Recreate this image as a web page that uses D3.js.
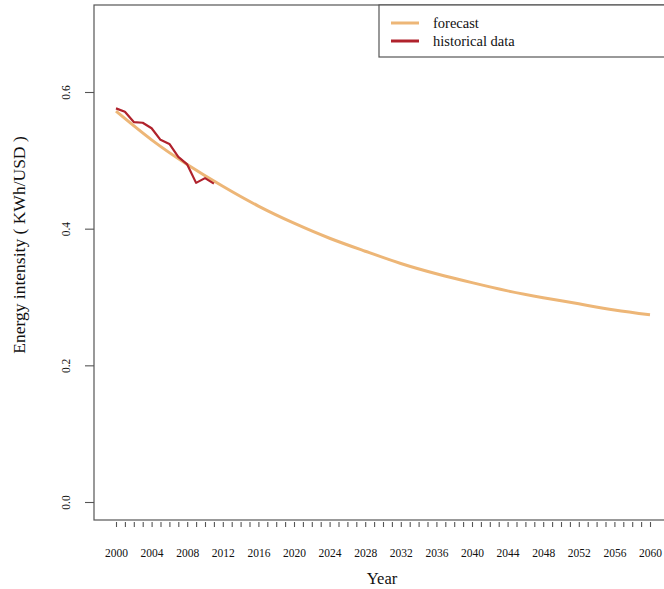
<!DOCTYPE html>
<html>
<head>
<meta charset="utf-8">
<script src="https://cdn.jsdelivr.net/npm/d3@7"></script>
<style>
  html, body { margin: 0; padding: 0; background: #fff; }
  svg { display: block; font-family: "Liberation Serif", "Times New Roman", serif; }
</style>
</head>
<body>
<svg id="chart" width="664" height="589"></svg>
<script>
// ---- data ----
const forecastYears  = [2000, 2004, 2008, 2012, 2016, 2020, 2024, 2028, 2032, 2036, 2040, 2044, 2048, 2052, 2056, 2060];
const forecastValues = [0.572, 0.530, 0.494, 0.462, 0.433, 0.408, 0.386, 0.367, 0.349, 0.334, 0.321, 0.309, 0.299, 0.290, 0.281, 0.274];
const historyYears   = [2000, 2001, 2002, 2003, 2004, 2005, 2006, 2007, 2008, 2009, 2010, 2011];
const historyValues  = [0.576, 0.571, 0.556, 0.555, 0.547, 0.530, 0.524, 0.505, 0.494, 0.467, 0.474, 0.466];
const xTickYears  = d3.range(2000, 2061, 1);
const xLabelYears = [2000, 2004, 2008, 2012, 2016, 2020, 2024, 2028, 2032, 2036, 2040, 2044, 2048, 2052, 2056, 2060];
const yTicks = [0.0, 0.2, 0.4, 0.6];
const legendLabels = ["forecast", "historical data"];

// ---- layout ----
const svg = d3.select("#chart");
const box = { left: 94, right: 672, top: 5, bottom: 520 };
const x = d3.scaleLinear().domain([2000, 2060]).range([116, 650]);
const y = d3.scaleLinear().domain([0, 0.6]).range([502, 92]);
const axisColor = "#555";
const cForecast = "#EDB677";
const cHistory = "#B0222C";

// plot box
svg.append("rect")
  .attr("x", box.left).attr("y", box.top)
  .attr("width", box.right - box.left).attr("height", box.bottom - box.top)
  .attr("fill", "none").attr("stroke", axisColor).attr("stroke-width", 1.2);

// x axis
const xAxis = d3.axisBottom(x)
  .tickValues(xTickYears)
  .tickSize(5).tickSizeOuter(0).tickPadding(22)
  .tickFormat(d => xLabelYears.includes(d) ? String(d) : "");
const gx = svg.append("g").attr("transform", "translate(0,522)").call(xAxis);
gx.select(".domain").remove();
gx.selectAll(".tick line").attr("stroke", axisColor).attr("stroke-width", 1.1);
gx.selectAll(".tick text").attr("fill", "#111").style("font-size", "11.5px")
  .style("font-family", "Liberation Serif, serif");

// y axis
const yAxis = d3.axisLeft(y).tickValues(yTicks).tickSize(9).tickSizeOuter(0)
  .tickFormat(d3.format(".1f"));
const gy = svg.append("g").attr("transform", `translate(${box.left},0)`).call(yAxis);
gy.select(".domain").remove();
gy.selectAll(".tick line").attr("stroke", axisColor).attr("stroke-width", 1.1);
gy.selectAll(".tick text")
  .attr("x", null).attr("dy", null)
  .attr("transform", "translate(-24,0) rotate(-90)")
  .attr("text-anchor", "middle")
  .attr("dominant-baseline", "auto")
  .attr("fill", "#111").style("font-size", "11.5px")
  .style("font-family", "Liberation Serif, serif");

// axis titles
svg.append("text").attr("x", 382).attr("y", 584).attr("text-anchor", "middle")
  .style("font-size", "16.5px").attr("fill", "#111").text("Year");
svg.append("text")
  .attr("transform", "translate(25,245) rotate(-90)")
  .attr("text-anchor", "middle")
  .style("font-size", "17.5px").attr("fill", "#111")
  .text("Energy intensity ( KWh/USD )");

// lines
const fData = forecastYears.map((yr, i) => [yr, forecastValues[i]]);
const hData = historyYears.map((yr, i) => [yr, historyValues[i]]);
const lineF = d3.line().x(d => x(d[0])).y(d => y(d[1])).curve(d3.curveNatural);
const lineH = d3.line().x(d => x(d[0])).y(d => y(d[1]));

svg.append("path").datum(fData).attr("d", lineF)
  .attr("fill", "none").attr("stroke", cForecast).attr("stroke-width", 3);
svg.append("path").datum(hData).attr("d", lineH)
  .attr("fill", "none").attr("stroke", cHistory).attr("stroke-width", 2.2)
  .attr("stroke-linejoin", "round");

// legend
svg.append("rect").attr("x", 379).attr("y", box.top).attr("width", 300).attr("height", 52)
  .attr("fill", "#fff").attr("stroke", axisColor).attr("stroke-width", 1.2);
const legColors = [cForecast, cHistory];
const legWidths = [3, 3];
legendLabels.forEach((lab, i) => {
  const ly = 23 + i * 18;
  svg.append("line").attr("x1", 391).attr("x2", 419).attr("y1", ly).attr("y2", ly)
    .attr("stroke", legColors[i]).attr("stroke-width", legWidths[i]);
  svg.append("text").attr("x", 433).attr("y", ly + 5)
    .style("font-size", "14.5px").attr("fill", "#111").text(lab);
});
</script>
</body>
</html>
